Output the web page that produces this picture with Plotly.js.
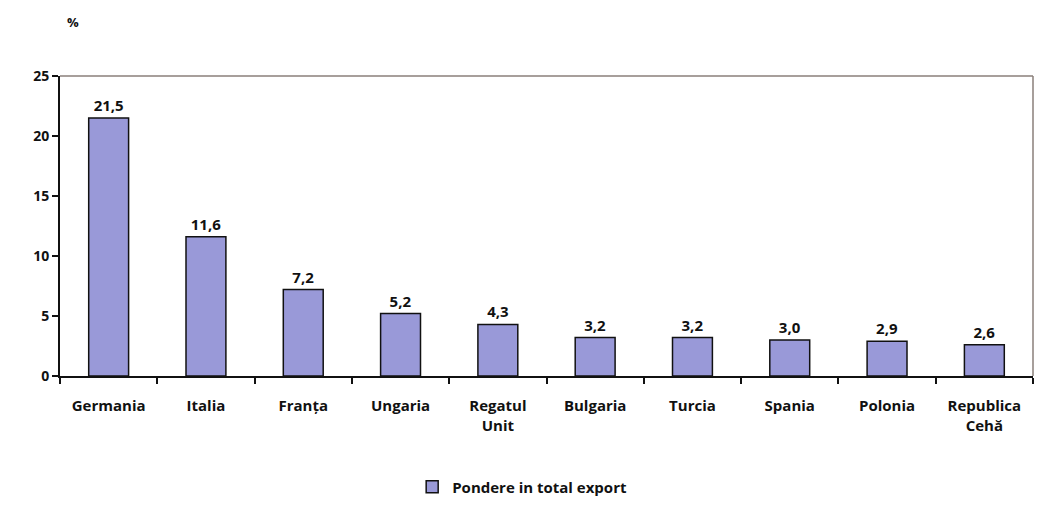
<!DOCTYPE html>
<html>
<head>
<meta charset="utf-8">
<script src="https://cdn.plot.ly/plotly-3.0.1.min.js"></script>
<style>html,body{margin:0;padding:0;background:#fff;}#chart{width:1041px;height:526px;}</style>
</head>
<body>
<div id="chart"></div>
<script>
const categories = ["Germania", "Italia", "Franța", "Ungaria", "Regatul<br>Unit", "Bulgaria", "Turcia", "Spania", "Polonia", "Republica<br>Cehă"];
const values = [21.5, 11.6, 7.2, 5.2, 4.3, 3.2, 3.2, 3.0, 2.9, 2.6];
const seriesName = "Pondere in total export";
const yTicks = [0, 5, 10, 15, 20, 25];

const fontFamily = "Open Sans, Lato, sans-serif";

const trace = {
  type: "bar",
  x: categories,
  y: values,
  name: seriesName,
  marker: {color: "#9999d8", line: {color: "#111", width: 1.5}},
  texttemplate: "%{y:.1f}",
  textposition: "outside",
  cliponaxis: false,
  textfont: {family: fontFamily, size: 15, color: "#111", weight: 700},
  hoverinfo: "x+y"
};

const layout = {
  width: 1041, height: 526,
  margin: {l: 60, r: 8, t: 76, b: 150},
  paper_bgcolor: "#fff",
  plot_bgcolor: "#fff",
  separators: ",.",
  bargap: 0.59,
  showlegend: true,
  font: {family: fontFamily, size: 15, color: "#111", weight: 700},
  xaxis: {
    type: "category",
    showline: true, linecolor: "#111", linewidth: 2,
    ticks: "outside", tickson: "boundaries", ticklen: 6, tickcolor: "#111", tickwidth: 2,
    ticklabelstandoff: 15,
    tickfont: {family: fontFamily, size: 15, color: "#111", weight: 700},
    showgrid: false, zeroline: false, mirror: false
  },
  yaxis: {
    range: [0, 25],
    tickvals: yTicks,
    showline: true, linecolor: "#111", linewidth: 2,
    ticks: "outside", ticklen: 6, tickcolor: "#111", tickwidth: 2,
    tickfont: {family: fontFamily, size: 14, color: "#111", weight: 700},
    showgrid: false, zeroline: false
  },
  shapes: [
    {type: "line", xref: "paper", yref: "paper", x0: 0, x1: 1, y0: 1, y1: 1, line: {color: "#8a7f7a", width: 1.5}},
    {type: "line", xref: "paper", yref: "paper", x0: 1, x1: 1, y0: 0, y1: 1, line: {color: "#8a7f7a", width: 1.5}}
  ],
  annotations: [
    {text: "%", xref: "paper", yref: "paper", x: 0.005, y: 1.18, xanchor: "left", yanchor: "middle", showarrow: false,
     font: {family: fontFamily, size: 13, color: "#111", weight: 700}}
  ],
  legend: {
    orientation: "h", x: 0.475, xanchor: "center", y: -0.37, yanchor: "middle",
    font: {family: fontFamily, size: 15, color: "#111", weight: 700},
    itemwidth: 30
  }
};

Plotly.newPlot("chart", [trace], layout, {displayModeBar: false, staticPlot: true});
</script>
</body>
</html>
